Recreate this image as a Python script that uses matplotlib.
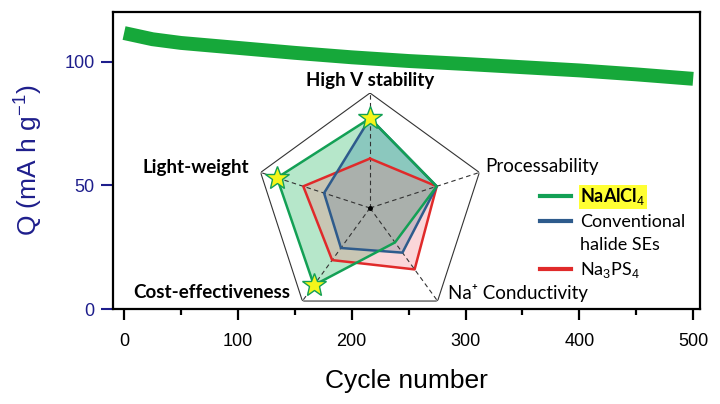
import numpy as np
import matplotlib
matplotlib.use("Agg")
import matplotlib.pyplot as plt
from matplotlib.lines import Line2D

plt.rcParams['font.family'] = ['Liberation Sans', 'DejaVu Sans']
plt.rcParams['mathtext.fontset'] = 'custom'
plt.rcParams['mathtext.rm'] = 'Liberation Sans'
plt.rcParams['mathtext.it'] = 'Liberation Sans:italic'

# cycling data
cycles = [0, 25, 50, 75, 100, 125, 150, 175, 200, 250, 300, 350, 400, 450, 500]
capacity = [111.5, 109.0, 107.5, 106.5, 105.5, 104.5, 103.5, 102.6, 101.7,
            100.2, 99.0, 97.7, 96.4, 94.8, 93.0]

# radar data, clockwise from top
axes_names = ['High V stability', 'Processability', 'Na\u207a Conductivity',
              'Cost-effectiveness', 'Light-weight']
naalcl4 = [0.78, 0.61, 0.37, 0.83, 0.85]
halide = [0.78, 0.61, 0.48, 0.43, 0.42]
na3ps4 = [0.43, 0.61, 0.66, 0.56, 0.61]
star_idx = [0, 3, 4]

navy = '#1e1e8c'
green_band = '#16a83a'

fig = plt.figure(figsize=(7.2, 4.04), dpi=100)
ax = fig.add_axes([0.1565, 0.2351, 0.8157, 0.7352])
ax.plot(cycles, capacity, color=green_band, lw=10, solid_capstyle='butt')
ax.set_xlim(-10, 506)
ax.set_ylim(0, 120)
ax.set_xticks([0, 100, 200, 300, 400, 500])
ax.set_xticks([50, 150, 250, 350, 450], minor=True)
ax.set_yticks([0, 50, 100])
for s in ax.spines.values():
    s.set_linewidth(1.6)
ax.tick_params(axis='x', which='major', length=8, width=1.6, labelsize=13, pad=9)
ax.tick_params(axis='x', which='minor', length=4, width=1.6)
ax.tick_params(axis='y', length=9, width=1.5, color=navy, labelcolor=navy,
               labelsize=13, pad=4)
ax.set_xlabel('Cycle number', fontsize=19, labelpad=14)
ax.set_ylabel('Q (mA h g$^{-1}$)', fontsize=19, color=navy, labelpad=14)

# radar inset
rad = fig.add_axes([255 / 720, 81 / 404, 230 / 720, 230 / 404], projection='polar')
rad.set_theta_offset(np.pi / 2)
rad.set_theta_direction(-1)
rad.set_ylim(0, 1)
rad.axis('off')

theta = np.deg2rad(np.arange(5) * 72)
tc = np.append(theta, theta[0])

def closed(v):
    return np.append(v, v[0])

rad.plot(tc, np.ones(6), color='#333333', lw=0.8)
for t in theta:
    rad.plot([t, t], [0, 1], color='#333333', lw=0.8, ls=(0, (4, 3)))
rad.plot([0], [0], 'o', color='black', ms=2.5)

series = [
    (naalcl4, '#13a055', '#6fd196', 0.5),
    (halide, '#2e5b8c', '#3d8fa8', 0.35),
    (na3ps4, '#e02a2a', '#f47a84', 0.3),
]
for vals, lc, fc, a in series:
    rad.fill(tc, closed(vals), color=fc, alpha=a, lw=0)
for vals, lc, fc, a in series[::-1]:
    rad.plot(tc, closed(vals), color=lc, lw=1.8)

rad.plot(theta[star_idx], np.array(naalcl4)[star_idx], '*', ms=18,
         mfc='#f5f51a', mec='#13a055', mew=1.0, clip_on=False)

lab_font = ['Lato', 'DejaVu Sans']
label_pos = [(0, 1.11, 'center', 'bold'), (70, 1.065, 'left', 'normal'),
             (137.5, 1.0, 'left', 'normal'), (223.3, 1.015, 'right', 'bold'),
             (288.7, 1.11, 'right', 'bold')]
for name, (ang, r, ha, w) in zip(axes_names, label_pos):
    rad.text(np.deg2rad(ang), r, name, ha=ha, va='center', fontsize=13.5,
             fontweight=w, family=lab_font)

handles = [Line2D([], [], color=c, lw=3) for c in ['#13a055', '#2e5b8c']]
handles.append(Line2D([], [], color='none', lw=3))
handles.append(Line2D([], [], color='#e02a2a', lw=3))
leg = fig.legend(handles, ['NaAlCl$_4$', 'Conventional', 'halide SEs', 'Na$_3$PS$_4$'],
                 loc='upper left', bbox_to_anchor=(526 / 720, 1 - 172 / 404),
                 frameon=False, handlelength=1.7, handletextpad=0.5,
                 labelspacing=0.38, borderpad=0.3,
                 prop={'family': lab_font, 'size': 13})
t0 = leg.get_texts()[0]
t0.set_fontweight('bold')
t0.set_bbox(dict(facecolor='#ffff33', edgecolor='none', pad=1))

fig.savefig('out.png', dpi=100)
